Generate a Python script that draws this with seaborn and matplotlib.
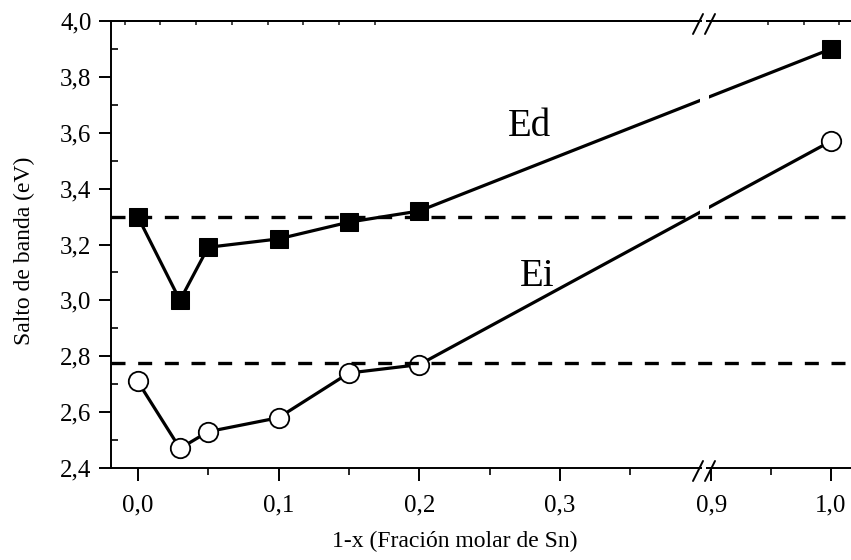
import numpy as np
import pandas as pd
import matplotlib
matplotlib.use("Agg")
import matplotlib.pyplot as plt
import seaborn as sns
from matplotlib.patches import Rectangle
from matplotlib.lines import Line2D

# ---- data ----
x_vals = [0.0, 0.03, 0.05, 0.10, 0.15, 0.20, 1.0]
ed_vals = [3.30, 3.00, 3.19, 3.22, 3.28, 3.32, 3.90]
ei_vals = [2.71, 2.47, 2.53, 2.58, 2.74, 2.77, 3.57]
ed_ref = 3.30
ei_ref = 2.775
x_major = [0.0, 0.1, 0.2, 0.3, 0.9, 1.0]
x_minor = [0.05, 0.15, 0.25, 0.35, 0.95]
y_major = [2.4, 2.6, 2.8, 3.0, 3.2, 3.4, 3.6, 3.8, 4.0]
y_minor = [2.5, 2.7, 2.9, 3.1, 3.3, 3.5, 3.7, 3.9]
xlabel = "1-x (Fración molar de Sn)"
ylabel = "Salto de banda (eV)"

sns.set_theme(style="ticks")
plt.rcParams['font.family'] = ['Liberation Serif', 'DejaVu Serif']

# broken-axis scale
B1 = 0.3993      # end of first segment
A2 = 0.898       # start of second segment
GAP = 9 / 1410.0
K2 = 1200 / 1410.0

def fwd(x):
    x = np.asarray(x, dtype=float)
    seg1 = x
    mid = B1 + (x - B1) / (A2 - B1) * GAP
    seg2 = B1 + GAP + (x - A2) * K2
    return np.where(x <= B1, seg1, np.where(x < A2, mid, seg2))

def inv(u):
    u = np.asarray(u, dtype=float)
    seg1 = u
    mid = B1 + (u - B1) / GAP * (A2 - B1)
    seg2 = A2 + (u - B1 - GAP) / K2
    return np.where(u <= B1, seg1, np.where(u < B1 + GAP, mid, seg2))

W, H = 851, 560
fig = plt.figure(figsize=(W / 100, H / 100), dpi=100)
ax = fig.add_axes([111 / W, (H - 468) / H, (852 - 111) / W, (468 - 21) / H])
ax.set_xscale('function', functions=(fwd, inv))

df = pd.DataFrame({"x": x_vals, "Ed": ed_vals, "Ei": ei_vals})

ax.axhline(ed_ref, color='black', lw=2.4, dashes=(4.2, 3.8), zorder=2.3)
ax.axhline(ei_ref, color='black', lw=2.4, dashes=(4.2, 3.8), zorder=2.3)

sns.lineplot(data=df, x="x", y="Ed", ax=ax, color='black', lw=2.3,
             marker='s', markersize=12.5, markerfacecolor='black',
             markeredgecolor='black', sort=False, zorder=2.1)
sns.lineplot(data=df, x="x", y="Ei", ax=ax, color='black', lw=2.3,
             marker='o', markersize=14, markerfacecolor='white',
             markeredgecolor='black', markeredgewidth=1.3, sort=False, zorder=2.1)

# white gap through data lines at the break
ax.axvspan(B1, A2, color='white', lw=0, zorder=2.2)

ax.set_xlim(-0.019, 1.0 + 21 / 1200)
ax.set_ylim(2.4, 4.0)

ax.set_xticks(x_major)
ax.set_xticklabels([f"{v:.1f}".replace('.', ',') for v in x_major])
ax.set_xticks(x_minor, minor=True)
ax.set_yticks(y_major)
ax.set_yticklabels([f"{v:.1f}".replace('.', ',') for v in y_major])
ax.set_yticks(y_minor, minor=True)

ax.tick_params(axis='both', which='major', direction='out', length=9, width=1.4,
               labelsize=18, colors='black', pad=5)
ax.tick_params(axis='x', which='minor', direction='out', length=5, width=1.4)
ax.tick_params(axis='y', which='minor', direction='in', length=5, width=1.4)
ax.tick_params(axis='x', which='major', pad=10)

# small top ticks
sec = ax.secondary_xaxis('top', functions=(lambda v: v, lambda v: v))
sec.set_xticks(x_major)
sec.set_xticks(x_minor, minor=True)
sec.tick_params(axis='x', which='both', direction='in', length=3, width=1.2,
                labeltop=False)
sec.spines['top'].set_linewidth(1.4)

for s in ['left', 'bottom', 'top']:
    ax.spines[s].set_linewidth(1.4)
    ax.spines[s].set_color('black')
ax.spines['right'].set_visible(False)

ax.set_xlabel(xlabel, fontsize=17, color='black')
ax.set_ylabel(ylabel, fontsize=17, color='black')
ax.xaxis.set_label_coords(0.464, -0.14)
ax.yaxis.set_label_coords(-0.1026, 0.485)

ax.text(0.278, 3.622, "Ed", fontsize=28, ha='center', va='center', color='black')
ax.text(0.284, 3.087, "Ei", fontsize=28, ha='center', va='center', color='black')

# break marks on top and bottom spines
tf = fig.transFigure
def px(xp, yp):
    return xp / W, (H - yp) / H
for yc in (21, 468):
    x0, y0 = px(702, yc - 3)
    x1, y1 = px(706, yc + 3)
    fig.add_artist(Rectangle((x0, y1), x1 - x0, y0 - y1, transform=tf,
                             facecolor='white', edgecolor='none', zorder=5))
    for xs in (693, 705):
        a = px(xs, yc + 13)
        b = px(xs + 10, yc - 7)
        fig.add_artist(Line2D([a[0], b[0]], [a[1], b[1]], transform=tf,
                              color='black', lw=1.4, zorder=6))

fig.savefig("out.png", dpi=100)
